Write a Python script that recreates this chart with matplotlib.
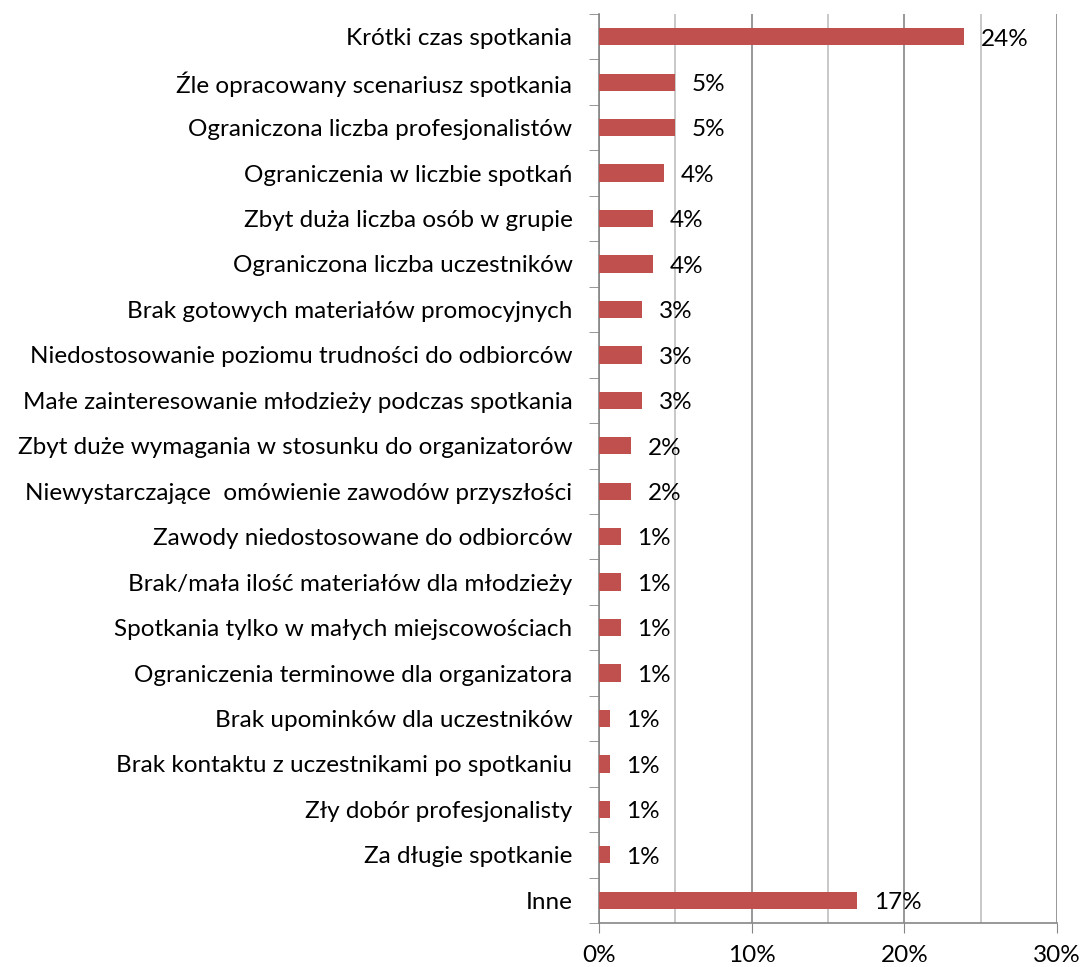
import numpy as np
import matplotlib.pyplot as plt
from matplotlib.ticker import MultipleLocator, FuncFormatter

categories = [
    "Krótki czas spotkania",
    "Źle opracowany scenariusz spotkania",
    "Ograniczona liczba profesjonalistów",
    "Ograniczenia w liczbie spotkań",
    "Zbyt duża liczba osób w grupie",
    "Ograniczona liczba uczestników",
    "Brak gotowych materiałów promocyjnych",
    "Niedostosowanie poziomu trudności do odbiorców",
    "Małe zainteresowanie młodzieży podczas spotkania",
    "Zbyt duże wymagania w stosunku do organizatorów",
    "Niewystarczające  omówienie zawodów przyszłości",
    "Zawody niedostosowane do odbiorców",
    "Brak/mała ilość materiałów dla młodzieży",
    "Spotkania tylko w małych miejscowościach",
    "Ograniczenia terminowe dla organizatora",
    "Brak upominków dla uczestników",
    "Brak kontaktu z uczestnikami po spotkaniu",
    "Zły dobór profesjonalisty",
    "Za długie spotkanie",
    "Inne",
]
values = [23.9, 4.96, 4.96, 4.26, 3.55, 3.55, 2.84, 2.84, 2.84, 2.13, 2.13,
          1.42, 1.42, 1.42, 1.42, 0.71, 0.71, 0.71, 0.71, 16.9]

bar_color = "#C0504D"
plt.rcParams['font.family'] = ['Lato', 'DejaVu Sans']
fs = 17.5

fig = plt.figure(figsize=(10.81, 9.67), dpi=100)
ax = fig.add_axes([0.554, 0.0455, 0.424, 0.94])

y = np.arange(len(categories))
ax.barh(y, values, height=0.38, color=bar_color, zorder=3)
for yi, v in zip(y, values):
    ax.text(v + 1.1, yi + 0.05, f"{v:.0f}%", va="center", ha="left", fontsize=fs, zorder=4)

ax.set_xlim(0, 30)
ax.set_ylim(len(categories) - 0.5, -0.5)
ax.set_yticks(y)
ax.set_yticklabels(categories, fontsize=fs)
ax.tick_params(axis="y", length=0, pad=19)
# category separators ticks
ax.set_yticks(np.arange(-0.5, len(categories), 1), minor=True)
ax.tick_params(axis="y", which="minor", length=7, color="#868686", direction="out")

ax.xaxis.set_major_locator(MultipleLocator(10))
ax.xaxis.set_minor_locator(MultipleLocator(5))
ax.xaxis.set_major_formatter(FuncFormatter(lambda x, p: f"{x:.0f}%"))
ax.tick_params(axis="x", which="major", length=7, color="#868686", labelsize=fs, pad=9)
ax.tick_params(axis="x", which="minor", length=0)
ax.grid(axis="x", which="major", color="#868686", linewidth=1.2, zorder=0)
ax.grid(axis="x", which="minor", color="#BFBFBF", linewidth=1.2, zorder=0)

for s in ["top", "right"]:
    ax.spines[s].set_visible(False)
for s in ["left", "bottom"]:
    ax.spines[s].set_color("#868686")
    ax.spines[s].set_linewidth(1.2)

fig.savefig("out.png", dpi=100)
